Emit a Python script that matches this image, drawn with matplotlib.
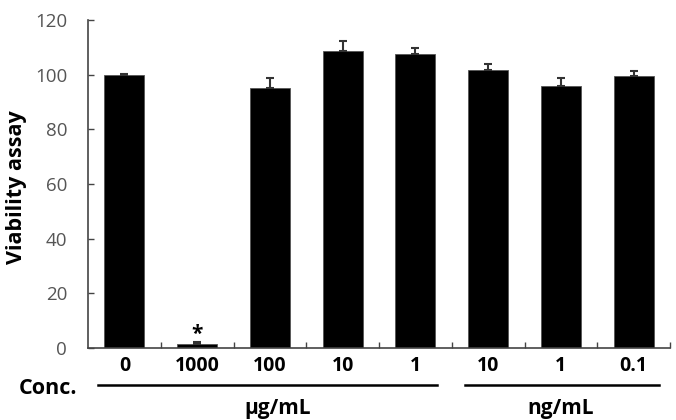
import numpy as np
import matplotlib.pyplot as plt

plt.rcParams['font.family'] = ['Open Sans', 'DejaVu Sans']

# data
labels = ["0", "1000", "100", "10", "1", "10", "1", "0.1"]
viability = [99.9, 1.3, 95.2, 108.8, 107.6, 101.7, 95.9, 99.4]
errors = [0.3, 0.9, 3.7, 3.5, 2.1, 2.2, 3.0, 2.1]

x = np.arange(len(labels))

fig = plt.figure(figsize=(6.76, 4.2), dpi=100)
ax = fig.add_axes([88/676, 72/420, 582/676, 328/420])

ax.bar(x, viability, width=0.55, color="black", edgecolor="#555555", linewidth=0.6)
ax.errorbar(x, viability, yerr=[np.zeros(len(errors)), errors], fmt="none",
            ecolor="#333333", elinewidth=1.5, capsize=3, capthick=1.5)

# significance mark
ax.text(1, viability[1] + 3.5, "*", ha="center", va="center", fontsize=15, fontweight="bold")

ax.set_xlim(-0.5, 7.5)
ax.set_ylim(0, 120)
ax.set_yticks(np.arange(0, 121, 20))
ax.tick_params(axis="y", direction="in", length=4, width=1, color="#444444",
               labelsize=13.5, labelcolor="#555555", pad=15)
ax.set_xticks(x)
ax.set_xticklabels(labels, fontsize=14, fontweight="bold")
ax.tick_params(axis="x", length=0, pad=6)
# small ticks between categories
ax.set_xticks(np.arange(0.5, 8, 1), minor=True)
ax.tick_params(axis="x", which="minor", direction="in", length=4, width=1, color="#444444")

for s in ["top", "right"]:
    ax.spines[s].set_visible(False)
for s in ["left", "bottom"]:
    ax.spines[s].set_color("#444444")
    ax.spines[s].set_linewidth(1.2)

ax.set_ylabel("Viability assay", fontsize=15.5, fontweight="bold")
ax.yaxis.set_label_coords(-0.105, 0.49)

# group underlines and unit labels
trans = ax.get_xaxis_transform()
ax.plot([-0.36, 4.3], [-0.113, -0.113], color="black", lw=1.8, transform=trans, clip_on=False)
ax.plot([4.68, 7.35], [-0.113, -0.113], color="black", lw=1.8, transform=trans, clip_on=False)
ax.text(2.1, -0.185, "μg/mL", transform=trans, ha="center", va="center",
        fontsize=15, fontweight="bold")
ax.text(6.0, -0.185, "ng/mL", transform=trans, ha="center", va="center",
        fontsize=15, fontweight="bold")
fig.text(48/676, 1 - 388/420, "Conc.", ha="center", va="center",
         fontsize=15.5, fontweight="bold")

fig.savefig("out.png", dpi=100)
